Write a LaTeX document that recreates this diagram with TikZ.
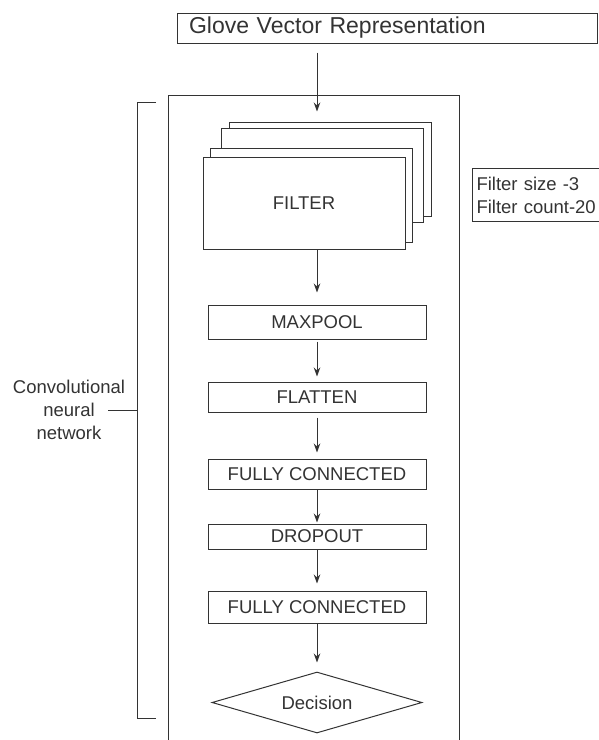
\documentclass[tikz,border=0pt]{standalone}
\usepackage{fontspec}
\setmainfont{Liberation Sans}
\usetikzlibrary{arrows.meta,shapes.geometric}
\definecolor{ink}{HTML}{333333}
\tikzset{
    layer/.style={draw=ink, fill=white, line width=1pt, text=ink, minimum width=218pt, inner sep=0pt,
        font=\fontsize{18.5}{23}\selectfont},
    page/.style={draw=ink, fill=white, line width=1pt, minimum width=202pt, minimum height=94pt, inner sep=0pt},
    arr/.style={-{Stealth[length=9pt,width=6.5pt]}, draw=ink, line width=1pt}
}
\begin{document}
\begin{tikzpicture}[x=1pt,y=-1pt]
    \useasboundingbox (0,0) rectangle (598,740);

    % Eingabe oben
    \node[draw=ink, line width=1pt, text=ink, minimum width=420pt, minimum height=30pt, inner ysep=0pt,
        inner xsep=12pt, text width=396pt, align=left, font=\fontsize{23}{28}\selectfont]
        (glove) at (387,28) {Glove Vector Representation};

    % Rahmen des Netzes
    \draw[ink, line width=1pt] (168,760) -- (168,95) -- (459,95) -- (459,760);

    % Filterstapel (hintere Blaetter)
    \foreach \x/\y [count=\i] in {330/169, 322.5/175.5, 311/195} {
        \node[page] (page\i) at (\x,\y) {};
    }
    \node[page, minimum height=92pt, text=ink, font=\fontsize{18.5}{23}\selectfont] (filter) at (304,203) {FILTER};

    % Die Schichten
    \node[layer, minimum height=34pt] (maxpool) at (317,322) {MAXPOOL};
    \node[layer, minimum height=30pt] (flatten) at (317,397) {FLATTEN};
    \node[layer, minimum height=30pt] (fc1) at (317,474) {FULLY CONNECTED};
    \node[layer, minimum height=25pt] (dropout) at (317,536.5) {DROPOUT};
    \node[layer, minimum height=32pt] (fc2) at (317,607) {FULLY CONNECTED};
    \node[draw=ink, line width=1pt, text=ink, diamond, aspect=3.44, minimum width=210pt, minimum height=61pt,
        inner sep=0pt, font=\fontsize{18.5}{23}\selectfont] (decision) at (317,702.5) {Decision};

    % Pfeile
    \draw[arr, shorten <=9pt, shorten >=10pt] (glove.south -| maxpool) -- (page1.north -| maxpool);
    \draw[arr, shorten >=12pt] (filter.south -| maxpool) -- (maxpool.north);
    \foreach \a/\b/\s/\e in {maxpool/flatten/2/5, flatten/fc1/5/6, fc1/dropout/0/1, dropout/fc2/0/7, fc2/decision/0/9} {
        \draw[arr, shorten <=\s pt, shorten >=\e pt] (\a.south) -- (\b.north);
    }

    % Filterangaben
    \node[draw=ink, line width=1pt, text=ink, anchor=north west, minimum width=170pt, minimum height=53pt,
        inner xsep=4pt, inner ysep=0pt, text width=162pt, align=left, font=\fontsize{18.5}{23}\selectfont]
        (info) at (472,168) {Filter size -3\\Filter count-20};

    % Klammer links
    \draw[ink, line width=1pt] (156,102) -- (137,102) -- (137,718) -- (156,718);
    \coordinate (brk) at (137,410);
    \node[text=ink, align=center, font=\fontsize{18.5}{23}\selectfont] (cnn) at (69,410)
        {Convolutional\\neural\\network};
    \draw[ink, line width=1pt] (brk) -- ++(-29,0);
\end{tikzpicture}
\end{document}
